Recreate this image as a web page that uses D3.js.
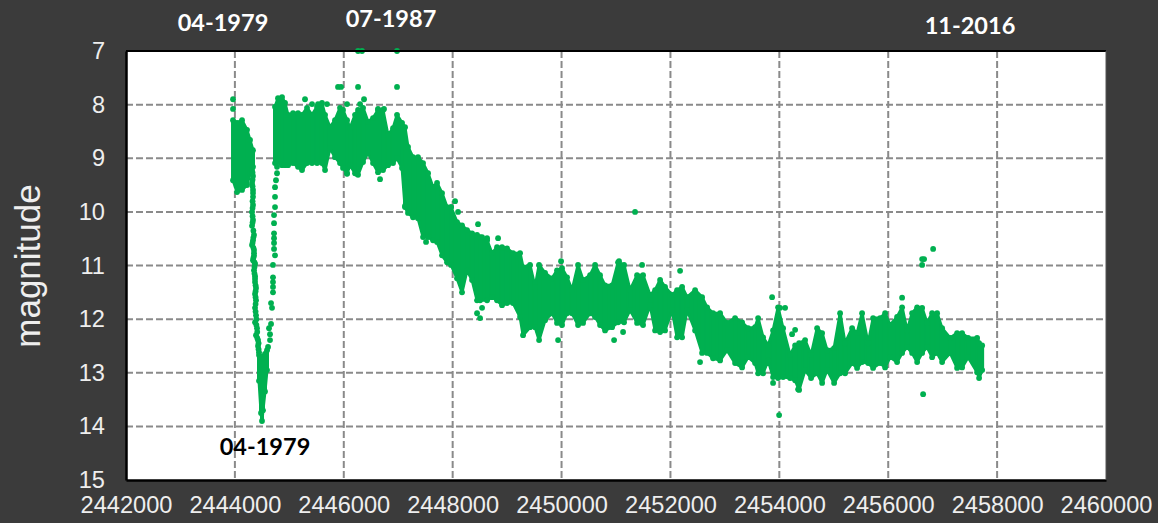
<!DOCTYPE html>
<html><head><meta charset="utf-8">
<script src="https://cdn.jsdelivr.net/npm/d3@7"></script>
<style>html,body{margin:0;padding:0;background:#3b3b3b}svg{display:block}</style>
</head><body><div id="chart"></div>
<script>
const bandJD = [
2443966,2444039,2444131,2444223,2444278,2444333,
2444443,2444480,2444498,2444516,2444553,2444590,
2444737,2444792,2444866,2444921,2444976,2445068,2445160,2445233,2445325,2445417,2445509,2445600,2445656,2445747,2445839,2445931,2445986,2446060,2446115,2446207,2446262,2446354,2446446,2446537,2446629,2446721,2446813,2446905,2446978,2447070,2447125,2447180,2447272,2447364,2447456,2447548,2447640,2447713,2447805,2447897,2447970,2448080,2448172,2448264,2448356,2448448,2448503,2448632,2448723,2448815,2448907,2448999,2449109,2449238,2449293,2449421,2449513,2449587,2449697,2449826,2449917,2450009,2450101,2450193,2450303,2450395,2450524,2450616,2450707,2450799,2450928,2451038,2451148,2451258,2451387,2451497,2451626,2451718,2451810,2451901,2452030,2452122,2452214,2452306,2452453,2452581,2452673,2452783,2452912,2453040,2453187,2453316,2453426,2453555,2453610,2453702,2453794,2453885,2453977,2454069,2454198,2454290,2454363,2454473,2454583,2454694,2454786,2454877,2455006,2455116,2455208,2455337,2455428,2455520,2455631,2455722,2455851,2455943,2456035,2456163,2456255,2456347,2456439,2456531,2456623,2456714,2456806,2456898,2456990,2457137,2457265,2457357,2457467,2457633,2457669,2457725];
const bandBright = [
8.29,8.34,8.29,8.47,8.66,8.85,
12.67,12.7,12.73,12.7,12.65,12.58,
8.04,7.88,7.86,7.97,8.19,8.16,8.16,8.19,8.06,8.19,8.04,7.97,8.19,8.42,8.29,8.06,8.1,8.29,8.44,8.19,8.1,8.06,8.32,8.25,8.1,8.1,8.57,8.44,8.19,8.34,8.42,8.79,8.98,8.98,9.09,9.28,9.54,9.46,9.65,9.91,9.91,10.19,10.25,10.34,10.4,10.43,10.47,10.53,10.77,10.66,10.66,10.68,10.77,10.77,11.03,10.99,11.4,10.99,11.14,11.24,11.09,11.05,11.22,11.46,10.99,11.27,11.18,10.99,11.18,11.37,11.37,10.94,10.99,11.46,11.18,11.18,11.55,11.46,11.27,11.4,11.55,11.46,11.4,11.59,11.46,11.59,11.78,11.89,11.89,12.07,11.98,12.06,12.17,12.15,11.98,12.34,12.49,12.21,11.78,12.17,12.67,12.49,12.45,12.39,12.67,12.17,12.26,12.58,12.54,11.89,12.45,12.17,12.26,11.89,12.45,11.98,11.98,11.89,12.11,11.96,11.78,12.21,11.89,11.78,11.79,12.07,11.89,11.89,12.17,12.35,12.26,12.26,12.35,12.35,12.45,12.49];
const bandFaint = [
9.41,9.63,9.59,9.5,9.28,9.16,
13.15,13.75,13.9,13.7,13.35,12.95,
9.09,9.07,9.13,9.13,9.13,9.09,9.16,9.22,9.09,9.09,9.09,9.09,9.22,8.81,8.98,9.09,9.18,9.28,9.13,9.28,9.31,9.07,8.9,9.09,9.26,9.22,9.13,9.09,9.0,9.18,9.91,10.02,10.1,10.12,10.47,10.47,10.53,10.56,10.81,10.94,10.99,11.24,11.5,11.09,11.27,11.65,11.65,11.65,11.59,11.65,11.74,11.7,11.7,11.96,12.3,12.15,12.15,12.39,12.02,11.89,12.07,12.11,11.89,11.89,12.11,12.07,11.89,11.96,12.11,12.21,12.15,12.06,12.06,11.83,12.07,12.11,11.74,12.21,12.24,12.21,11.83,12.34,12.34,11.83,12.21,12.63,12.63,12.73,12.77,12.58,12.82,12.9,12.71,12.82,13.01,13.01,12.77,13.08,13.1,13.08,13.1,13.14,13.32,12.95,13.1,13.01,13.19,12.95,13.19,13.01,13.01,12.82,12.91,12.8,12.82,12.91,12.82,12.9,12.71,12.8,12.63,12.52,12.63,12.8,12.63,12.52,12.71,12.63,12.8,12.63,12.91,12.9,12.71,12.99,13.1,12.95];
// Number of readings in each unbroken stretch of the band: first maximum, the fade's minimum, everything after recovery
const bandRuns = [6,6,136];

// Individually visible observations: the deep fade, its recovery and the isolated points
const pointJD = [
2444315,2444333,2444315,2444333,2444333,2444333,2444315,2444333,2444315,2444351,2444333,2444315,2444351,2444351,2444333,2444370,2444351,2444370,2444370,2444388,2444370,2444388,2444370,2444388,2444370,2444406,2444388,2444425,2444425,2444443,
2444325,2444325,2444325,2444333,2444325,2444325,2444325,2444325,2444340,2444340,2444325,2444340,2444351,2444340,2444360,2444360,2444360,2444370,2444380,2444380,2444380,2444380,2444380,2444395,2444395,2444410,2444410,2444435,2444435,
2444609,2444645,2444645,2444627,2444664,2444682,2444664,2444700,2444700,2444700,2444700,2444700,2444737,2444719,2444719,2444719,2444719,2444719,2444719,2444737,2444737,2444737,2444755,2444774,2444774,2444811,
2446262,2446335,2446978,2446978,2446262,2445894,2445950,2445288,2445417,2445527,2445692,2446060,2446299,2446372,2446629,2446739,2446060,2446243,2446666,2443966,2443966,
2447125,2447970,2448044,2448099,2448466,2448540,2448632,2448834,2451350,2449991,2449936,2450965,2451130,2452177,2453867,2452544,2453885,2448448,2448503,2448540,2456825,2456623,2456659,2456623,2456255,2454014,2454106,2456641,2453996,2454345,2454234,2454290,2451056,2451479,2447511];
const pointMag = [
9.22,9.33,9.46,9.59,9.72,9.87,10.0,10.15,10.26,10.43,10.53,10.62,10.71,10.82,10.9,10.97,11.09,11.2,11.31,11.42,11.53,11.65,11.79,11.93,12.06,12.17,12.3,12.39,12.5,12.62,
9.27,9.4,9.52,9.65,9.8,9.93,10.08,10.2,10.35,10.48,10.58,10.67,10.77,10.86,10.94,11.03,11.15,11.25,11.37,11.48,11.59,11.72,11.86,12.0,12.11,12.24,12.35,12.45,12.56,
12.52,12.39,12.28,12.17,12.09,11.79,11.7,11.5,11.4,11.31,11.22,10.99,10.81,10.69,10.58,10.49,10.4,10.21,10.06,9.91,9.72,9.54,9.41,9.28,9.16,9.05,
7.0,7.0,7.0,7.67,7.67,7.67,7.67,7.9,7.99,7.99,7.99,7.99,7.99,7.9,8.08,8.08,9.29,9.29,9.39,7.9,8.08,
9.89,9.91,9.8,10.0,10.23,10.47,10.49,10.49,10.0,10.92,12.39,12.39,12.24,11.1,11.59,12.8,13.19,11.89,11.98,11.79,10.69,10.88,10.88,10.99,11.6,11.79,11.79,13.4,13.79,13.31,12.28,12.2,10.92,10.99,10.56];

const xTicks = [2442000,2444000,2446000,2448000,2450000,2452000,2454000,2456000,2458000,2460000];
const yTicks = [7,8,9,10,11,12,13,14,15];
const yTitle = "magnitude";
const dateLabels = ["04-1979","07-1987","11-2016","04-1979"];

const width=1158,height=523;
const margin={left:126,right:52,top:51,bottom:43};
const green="#00b050";
const svg=d3.select("#chart").append("svg").attr("width",width).attr("height",height);
svg.append("rect").attr("width",width).attr("height",height).attr("fill","#3b3b3b");

const x=d3.scaleLinear().domain([2442000,2460000]).range([margin.left,width-margin.right]);
const y=d3.scaleLinear().domain([7,15]).range([margin.top,height-margin.bottom]);

svg.append("rect").attr("x",x.range()[0]).attr("y",y.range()[0])
  .attr("width",x.range()[1]-x.range()[0]).attr("height",y.range()[1]-y.range()[0]).attr("fill","#fff");

const grid=svg.append("g").attr("stroke","#8a8a8a").attr("stroke-width",2).attr("stroke-dasharray","7 3");
grid.selectAll("line.v").data(xTicks.slice(1,-1)).join("line").attr("class","v")
  .attr("x1",d=>x(d)).attr("x2",d=>x(d)).attr("y1",y(7)).attr("y2",y(15));
grid.selectAll("line.h").data(yTicks.slice(1,-1)).join("line").attr("class","h")
  .attr("x1",x(2442000)).attr("x2",x(2460000)).attr("y1",d=>y(d)).attr("y2",d=>y(d));

const band=d3.range(bandJD.length).map(i=>({jd:bandJD[i],b:bandBright[i],f:bandFaint[i]}));
const points=pointJD.map((d,i)=>({jd:d,m:pointMag[i]}));
const R=2.9;
const marks=svg.append("g");
const area=d3.area().x(d=>x(d.jd)).y0(d=>y(d.f)).y1(d=>y(d.b));
let start=0;
const runs=bandRuns.map(n=>{const r=band.slice(start,start+n);start+=n;return r;});
marks.selectAll("path.band").data(runs).join("path").attr("class","band")
  .attr("d",area).attr("fill",green).attr("stroke",green).attr("stroke-width",3).attr("stroke-linejoin","round");
marks.selectAll("line").data(band).join("line")
  .attr("x1",d=>x(d.jd)).attr("x2",d=>x(d.jd)).attr("y1",d=>y(d.b)).attr("y2",d=>y(d.f))
  .attr("stroke",green).attr("stroke-width",4);
marks.selectAll("circle.b").data(band).join("circle").attr("class","b")
  .attr("cx",d=>x(d.jd)).attr("cy",d=>y(d.b)).attr("r",R).attr("fill",green);
marks.selectAll("circle.f").data(band).join("circle").attr("class","f")
  .attr("cx",d=>x(d.jd)).attr("cy",d=>y(d.f)).attr("r",R).attr("fill",green);
marks.selectAll("circle.p").data(points).join("circle").attr("class","p")
  .attr("cx",d=>x(d.jd)).attr("cy",d=>y(d.m)).attr("r",R).attr("fill",green);

const tickFont="'Liberation Sans',Arial,sans-serif";
const xAxis=svg.append("g").attr("transform",`translate(0,${y(15)})`)
  .call(d3.axisBottom(x).tickValues(xTicks).tickFormat(d3.format("d")).tickSize(0).tickPadding(16));
const yAxis=svg.append("g").attr("transform",`translate(${x(2442000)},0)`)
  .call(d3.axisLeft(y).tickValues(yTicks).tickFormat(d3.format("d")).tickSize(0).tickPadding(21));
[xAxis,yAxis].forEach(a=>{
  a.select(".domain").attr("stroke","#000").attr("stroke-width",2.5);
  a.selectAll("text").attr("fill","#eeeeee").style("font-family",tickFont).style("font-size","23.6px");
});
svg.append("line").attr("x1",x(2442000)).attr("x2",x(2460000)).attr("y1",y(7)).attr("y2",y(7)).attr("stroke","#000").attr("stroke-width",2);
svg.append("line").attr("x1",x(2460000)).attr("x2",x(2460000)).attr("y1",y(7)).attr("y2",y(15)).attr("stroke","#555").attr("stroke-width",1);

svg.append("text").attr("transform","translate(40,266) rotate(-90)").attr("text-anchor","middle")
  .attr("fill","#eeeeee").style("font-family",tickFont).style("font-size","35px").text(yTitle);

const labelPos=[[223,31,"#fff"],[391,27,"#fff"],[970,34,"#fff"],[265,455,"#000"]];
svg.selectAll("text.date").data(dateLabels).join("text").attr("class","date")
  .attr("x",(d,i)=>labelPos[i][0]).attr("y",(d,i)=>labelPos[i][1]).attr("fill",(d,i)=>labelPos[i][2])
  .attr("text-anchor","middle").style("font-family","Lato,sans-serif").style("font-weight","700").style("font-size","23.5px").text(d=>d);
</script></body></html>
